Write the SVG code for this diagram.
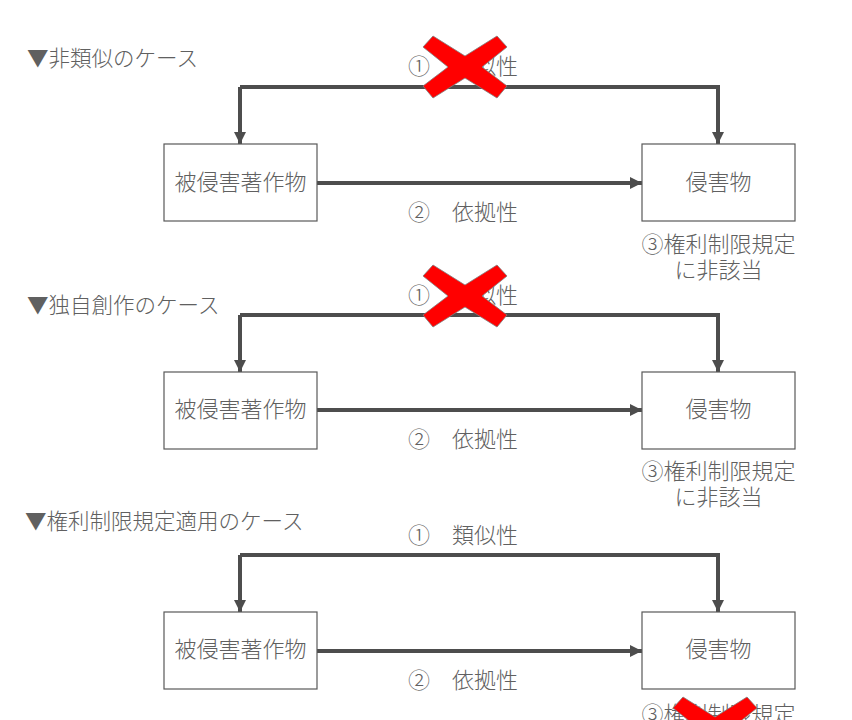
<svg xmlns="http://www.w3.org/2000/svg" width="852" height="720" viewBox="0 0 852 720">
<defs>
<style>
text{font-family:"Noto Sans CJK JP","Noto Sans CJK SC",sans-serif;fill:#606060;font-size:22px;font-weight:300}
.title{font-size:21.5px}
.box{fill:#fff;stroke:#595959;stroke-width:1.2}
.conn{fill:none;stroke:#4d4d4d;stroke-width:4}
.x{fill:#ff0000;stroke:#7f7f7f;stroke-width:0.8}
</style>
<marker id="ah2" markerWidth="12" markerHeight="12" refX="12" refY="6" orient="auto" markerUnits="userSpaceOnUse" viewBox="0 0 12 12">
<path d="M0,0 L12,6 L0,12 z" fill="#4d4d4d"/>
</marker>
<polygon id="cross" class="x" points="433,36 465,56 497,36 507,47 482,67 507,86 497,98 465,78 433,98 423,86 448,67 423,47"/>
</defs>
<rect width="852" height="720" fill="#fff"/>

<!-- Section 1 -->
<g id="section1">
<text class="title" x="27" y="66">▼非類似のケース</text>
<g id="connectors1">
<path class="conn" d="M240,87 H718 V144" marker-end="url(#ah2)"/>
<path class="conn" d="M240,87 V144" marker-end="url(#ah2)"/>
<path class="conn" d="M317,183 H642" marker-end="url(#ah2)"/>
</g>
<g id="s1-src"><rect class="box" x="164" y="144" width="153" height="77"/><text x="240.5" y="190" text-anchor="middle">被侵害著作物</text></g>
<g id="s1-dst"><rect class="box" x="642" y="144" width="153" height="77"/><text x="718.5" y="190" text-anchor="middle">侵害物</text></g>
<text x="463" y="74" text-anchor="middle">①　類似性</text>
<text x="463" y="220" text-anchor="middle">②　依拠性</text>
<text x="718.5" y="252" text-anchor="middle">③権利制限規定</text>
<text x="718.5" y="278" text-anchor="middle">に非該当</text>
<use href="#cross"/>
</g>

<!-- Section 2 -->
<g id="section2">
<text class="title" x="27" y="313">▼独自創作のケース</text>
<g id="connectors2">
<path class="conn" d="M240,315 H718 V372" marker-end="url(#ah2)"/>
<path class="conn" d="M240,315 V372" marker-end="url(#ah2)"/>
<path class="conn" d="M317,410 H642" marker-end="url(#ah2)"/>
</g>
<g id="s2-src"><rect class="box" x="164" y="372" width="153" height="77"/><text x="240.5" y="417" text-anchor="middle">被侵害著作物</text></g>
<g id="s2-dst"><rect class="box" x="642" y="372" width="153" height="77"/><text x="718.5" y="417" text-anchor="middle">侵害物</text></g>
<text x="463" y="303" text-anchor="middle">①　類似性</text>
<text x="463" y="447" text-anchor="middle">②　依拠性</text>
<text x="718.5" y="479" text-anchor="middle">③権利制限規定</text>
<text x="718.5" y="505" text-anchor="middle">に非該当</text>
<use href="#cross" transform="translate(0,229)"/>
</g>

<!-- Section 3 -->
<g id="section3">
<text class="title" x="25" y="529">▼権利制限規定適用のケース</text>
<g id="connectors3">
<path class="conn" d="M240,555 H718 V612" marker-end="url(#ah2)"/>
<path class="conn" d="M240,555 V612" marker-end="url(#ah2)"/>
<path class="conn" d="M317,651 H642" marker-end="url(#ah2)"/>
</g>
<g id="s3-src"><rect class="box" x="164" y="612" width="153" height="77"/><text x="240.5" y="657" text-anchor="middle">被侵害著作物</text></g>
<g id="s3-dst"><rect class="box" x="642" y="612" width="153" height="77"/><text x="718.5" y="657" text-anchor="middle">侵害物</text></g>
<text x="463" y="543" text-anchor="middle">①　類似性</text>
<text x="463" y="688" text-anchor="middle">②　依拠性</text>
<text x="718.5" y="722" text-anchor="middle">③権利制限規定</text>
<use href="#cross" transform="translate(250,661)"/>
</g>
</svg>
